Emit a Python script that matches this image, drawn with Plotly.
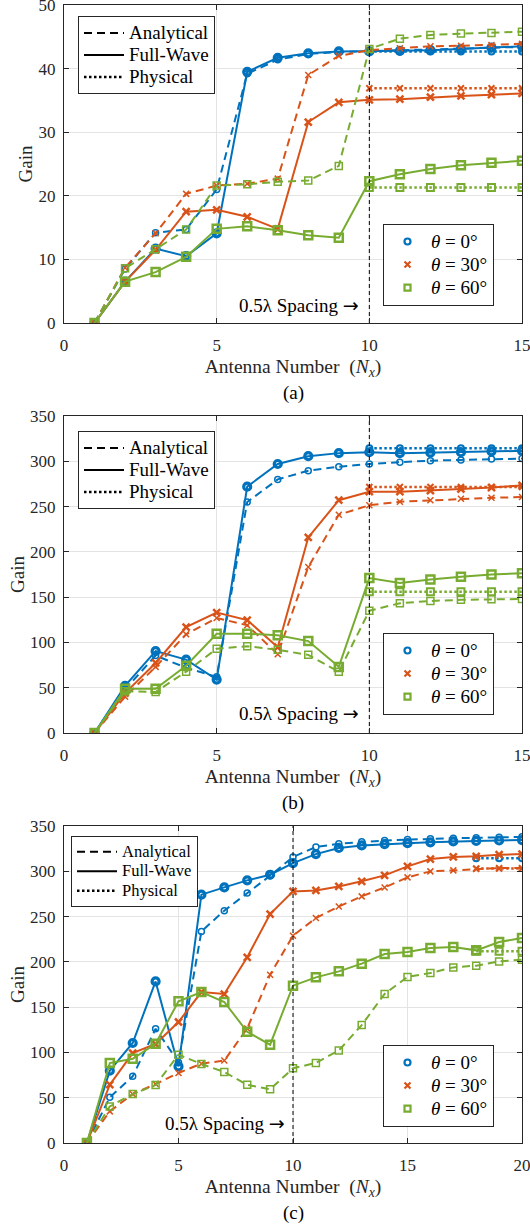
import plotly.graph_objects as go

FONT = '"Liberation Serif", "Times New Roman", Times, serif'
INK = "#262626"
GRID = "#e4e4e4"
COLORS = ["#0072BD", "#D95319", "#77AC30"]
SYMBOLS = ["circle-open", "x-thin-open", "square-open"]

# ---------------- data ----------------
N15 = list(range(1, 16))
N20 = list(range(1, 21))
N_phys_a = [10, 11, 12, 13, 14, 15]
N_phys_b = [10, 11, 12, 13, 14, 15]
N_phys_c = [18, 19, 20]

# (a)
a_ana_0 = [0, 8.5, 14.2, 14.7, 21.0, 39.2, 41.4, 42.3, 42.6, 42.8, 42.9, 43.0, 43.2, 43.3, 43.4]
a_fw_0 = [0, 6.5, 11.7, 10.5, 14.1, 39.5, 41.7, 42.4, 42.7, 42.7, 42.8, 42.9, 43.1, 43.3, 43.5]
a_phy_0 = [42.7, 42.7, 42.7, 42.7, 42.7, 42.7]
a_ana_30 = [0, 8.7, 14.1, 20.3, 21.6, 21.9, 22.7, 39.0, 42.0, 42.9, 43.2, 43.5, 43.6, 43.7, 43.9]
a_fw_30 = [0, 6.5, 11.5, 17.5, 17.8, 16.7, 14.8, 31.6, 34.7, 35.1, 35.2, 35.5, 35.7, 35.9, 36.1]
a_phy_30 = [36.9, 36.9, 36.9, 36.9, 36.9, 36.9]
a_ana_60 = [0, 8.6, 11.6, 14.7, 21.6, 21.8, 22.2, 22.4, 24.7, 43.1, 44.7, 45.3, 45.5, 45.6, 45.8]
a_fw_60 = [0, 6.5, 8.0, 10.4, 14.8, 15.2, 14.6, 13.8, 13.4, 22.3, 23.4, 24.2, 24.8, 25.2, 25.5]
a_phy_60 = [21.3, 21.3, 21.3, 21.3, 21.3, 21.3]

# (b)
b_ana_0 = [0, 48, 85.5, 72, 62, 255, 280, 289.6, 294, 297, 299, 300.7, 301.5, 302.4, 303]
b_fw_0 = [0, 52, 90.5, 81, 59, 272, 297, 305.6, 309, 310, 309, 309.5, 310, 311, 311.5]
b_phy_0 = [314.5, 314.5, 314.5, 314.5, 314.5, 314.5]
b_ana_30 = [0, 40, 73, 109, 127, 119, 87, 183.3, 241, 251.5, 255.3, 257, 258.6, 259.7, 260.5]
b_fw_30 = [0, 44, 77.3, 117, 133, 124.7, 94.7, 216, 257, 266.4, 266.4, 267.5, 269.4, 271, 273.4]
b_phy_30 = [271.7, 271.7, 271.7, 271.7, 271.7, 271.7]
b_ana_60 = [0, 46, 45.3, 67.7, 93, 95.8, 91.8, 86.3, 67.6, 135, 143.3, 145.8, 147, 147.7, 148]
b_fw_60 = [0, 48.9, 48.9, 74.3, 109.6, 109.6, 107.8, 101.5, 73, 171, 165.5, 169.5, 172.5, 175, 176.5]
b_phy_60 = [156, 156, 156, 156, 156, 156]

# (c)
c_ana_0 = [0, 50.4, 73.6, 126.2, 89, 233.6, 256.5, 276, 295.1, 315.8, 326.8, 330.5, 332.5,
           334, 335, 336, 336.5, 337, 337.5, 338]
c_fw_0 = [0, 79.8, 110.4, 178.4, 84.5, 274.2, 282.2, 290, 296.2, 309.1, 319, 325.7, 328.5,
          330, 331, 332, 333, 333.5, 334, 334.5]
c_phy_0 = [314.5, 314.5, 314.5]
c_ana_30 = [0, 34.9, 54, 65.1, 77.3, 87.6, 91, 126.5, 185.8, 228.9, 248.4, 261.2, 272.3,
            282.2, 293.3, 299.9, 301, 302.5, 303.6, 303.6]
c_fw_30 = [0, 64.4, 99.3, 109.3, 133.6, 166.7, 164.5, 205, 252.8, 277.8, 278.9, 283.3, 288.9,
           295.5, 305.4, 313.5, 315.8, 316.5, 318.3, 319]
c_phy_30 = [303, 303, 303]
c_ana_60 = [0, 40.4, 54, 64, 97.5, 87.2, 78.4, 64.2, 59.3, 82.5, 88.4, 102.2, 130.2, 164.6,
            183.3, 187.7, 193.9, 195.8, 200.5, 202.4]
c_fw_60 = [0, 88.3, 93, 109.6, 156.4, 166.7, 155.7, 122.8, 108.5, 173.7, 182.9, 189.5, 198,
           208.7, 210.9, 215.3, 216.4, 212.7, 221.9, 226.3]
c_phy_60 = [211.6, 211.6, 211.6]

theta_labels = ["<i>θ</i> = 0°", "<i>θ</i> = 30°", "<i>θ</i> = 60°"]
type_labels = ["Analytical", "Full-Wave", "Physical"]
panel_labels = ["(a)", "(b)", "(c)"]
x_title = "Antenna Number\u00a0\u00a0(<i>N<sub>x</sub></i>)"
y_title = "Gain"
x_ticks_ab = [0, 5, 10, 15]
x_ticks_c = [0, 5, 10, 15, 20]
y_ticks_a = [0, 10, 20, 30, 40, 50]
y_ticks_bc = [0, 50, 100, 150, 200, 250, 300, 350]
spacing_N = 10
spacing_text = ('0.5λ Spacing '
                '<span style="font-family:DejaVu Sans;font-size:19px">→</span>')

panels = [
    dict(N=N15, Np=N_phys_a, ana=[a_ana_0, a_ana_30, a_ana_60], fw=[a_fw_0, a_fw_30, a_fw_60],
         phy=[a_phy_0, a_phy_30, a_phy_60], xt=x_ticks_ab, yt=y_ticks_a, ty=2.8),
    dict(N=N15, Np=N_phys_b, ana=[b_ana_0, b_ana_30, b_ana_60], fw=[b_fw_0, b_fw_30, b_fw_60],
         phy=[b_phy_0, b_phy_30, b_phy_60], xt=x_ticks_ab, yt=y_ticks_bc, ty=22),
    dict(N=N20, Np=N_phys_c, ana=[c_ana_0, c_ana_30, c_ana_60], fw=[c_fw_0, c_fw_30, c_fw_60],
         phy=[c_phy_0, c_phy_30, c_phy_60], xt=x_ticks_c, yt=y_ticks_bc, ty=22),
]

# ---------------- layout geometry (pixels) ----------------
W, H = 530, 1226
ML, MR, MT, MB = 64, 8, 5, 83
plot_top = [5, 416, 826]
plot_bot = [323, 733, 1143]
PH = H - MT - MB
def py2paper(py):
    return (H - MB - py) / PH
def px2paper(px):
    return (px - ML) / (W - ML - MR)

DASH = "8px,5px"
DOT = "2.5px,2.5px"

fig = go.Figure()

for i, p in enumerate(panels):
    sfx = "" if i == 0 else str(i + 1)
    xa, ya = "x" + sfx, "y" + sfx
    for k in range(3):
        c = COLORS[k]
        sym = SYMBOLS[k]
        big = 8 if k == 2 else 7
        small = 7 if k == 2 else 6
        fw_lw = 3.2 if k == 0 else 2.5
        fig.add_trace(go.Scatter(
            x=p["N"], y=p["ana"][k], xaxis=xa, yaxis=ya, mode="lines+markers",
            line=dict(color=c, width=2, dash=DASH),
            marker=dict(symbol=sym, size=small, color=c, line=dict(width=1.5, color=c)),
            showlegend=False, hoverinfo="x+y"))
        fig.add_trace(go.Scatter(
            x=p["N"], y=p["fw"][k], xaxis=xa, yaxis=ya, mode="lines+markers",
            line=dict(color=c, width=2),
            marker=dict(symbol=sym, size=big, color=c, line=dict(width=fw_lw, color=c)),
            showlegend=False, hoverinfo="x+y"))
        fig.add_trace(go.Scatter(
            x=p["Np"], y=p["phy"][k], xaxis=xa, yaxis=ya, mode="lines+markers",
            line=dict(color=c, width=2.5, dash=DOT),
            marker=dict(symbol=sym, size=small, color=c, line=dict(width=2, color=c)),
            showlegend=False, hoverinfo="x+y"))
    # 0.5 lambda line
    fig.add_trace(go.Scatter(
        x=[spacing_N, spacing_N], y=[p["yt"][0], p["yt"][-1]], xaxis=xa, yaxis=ya,
        mode="lines", line=dict(color="black", width=1, dash="4px,3px"),
        showlegend=False, hoverinfo="skip"))
    # legend dummies
    lg1 = "legend" if i == 0 else "legend" + str(2 * i + 1)
    lg2 = "legend" + str(2 * i + 2)
    txt_px = 19 if i < 2 else 16.5
    for t, d in zip(type_labels, [DASH, "solid", DOT]):
        fig.add_trace(go.Scatter(
            x=[None], y=[None], xaxis=xa, yaxis=ya, mode="lines",
            name='<span style="font-size:%spx">%s</span>' % (txt_px, t),
            line=dict(color="black", width=2.5 if d == DOT else 2, dash=d), legend=lg1))
    for k in range(3):
        fig.add_trace(go.Scatter(
            x=[None], y=[None], xaxis=xa, yaxis=ya, mode="markers",
            name='<span style="font-size:19px">%s</span>' % theta_labels[k],
            marker=dict(symbol=SYMBOLS[k], size=6, color=COLORS[k],
                        line=dict(width=2.2, color=COLORS[k])),
            legend=lg2))

    d0 = py2paper(plot_bot[i])
    d1 = py2paper(plot_top[i])
    axis_common = dict(showline=True, linecolor=INK, linewidth=1, mirror="ticks",
                       ticks="inside", ticklen=5, tickcolor=INK, tickwidth=1,
                       showgrid=True, gridcolor=GRID, gridwidth=1, zeroline=False,
                       automargin=False, ticklabeloverflow="allow",
                       tickfont=dict(family=FONT, size=17, color=INK))
    fig.update_layout(**{
        "xaxis" + sfx: dict(axis_common, domain=[0, 1], anchor=ya,
                            range=[p["xt"][0], p["xt"][-1]], tickvals=p["xt"],
                            ticklabelstandoff=7,
                            title=dict(text=x_title,
                                       font=dict(family=FONT, size=19.5, color=INK), standoff=4)),
        "yaxis" + sfx: dict(axis_common, domain=[d0, d1], anchor=xa,
                            range=[p["yt"][0], p["yt"][-1]], tickvals=p["yt"],
                            ticklabelstandoff=4,
                            title=dict(text=y_title, font=dict(family=FONT, size=19, color=INK),
                                       standoff=0)),
    })
    fig.add_annotation(x=spacing_N - 0.27, y=p["ty"], xref=xa, yref=ya, text=spacing_text,
                       showarrow=False, xanchor="right", yanchor="middle",
                       font=dict(family=FONT, size=19, color="black"))
    fig.add_annotation(x=0.5, y=py2paper(plot_bot[i] + 70), xref="paper", yref="paper",
                       text=panel_labels[i], showarrow=False, xanchor="center",
                       yanchor="middle", font=dict(family=FONT, size=19, color="black"))

# legends (font size controls row spacing; visible text size is set in the names)
leg1_pos = [(78, 16), (78, 431), (71, 836)]
leg2_pos = [(383, 224), (383, 633), (383, 1045)]
leg1_fs = [14.6, 14.6, 12.7]
for i in range(3):
    lg1 = "legend" if i == 0 else "legend" + str(2 * i + 1)
    lg2 = "legend" + str(2 * i + 2)
    fig.update_layout(**{
        lg1: dict(x=px2paper(leg1_pos[i][0]), y=py2paper(leg1_pos[i][1]), xanchor="left",
                  yanchor="top", bgcolor="white", bordercolor=INK, borderwidth=1,
                  font=dict(family=FONT, size=leg1_fs[i], color="black"),
                  itemwidth=40, tracegroupgap=0),
        lg2: dict(x=px2paper(leg2_pos[i][0]), y=py2paper(leg2_pos[i][1]), xanchor="left",
                  yanchor="top", bgcolor="white", bordercolor=INK, borderwidth=1,
                  font=dict(family=FONT, size=15.4, color="black"),
                  itemwidth=37, tracegroupgap=0),
    })

fig.update_layout(width=W, height=H, margin=dict(l=ML, r=MR, t=MT, b=MB, autoexpand=False),
                  paper_bgcolor="white", plot_bgcolor="white",
                  font=dict(family=FONT, size=17, color=INK), showlegend=True)

fig.write_html("out.html")
